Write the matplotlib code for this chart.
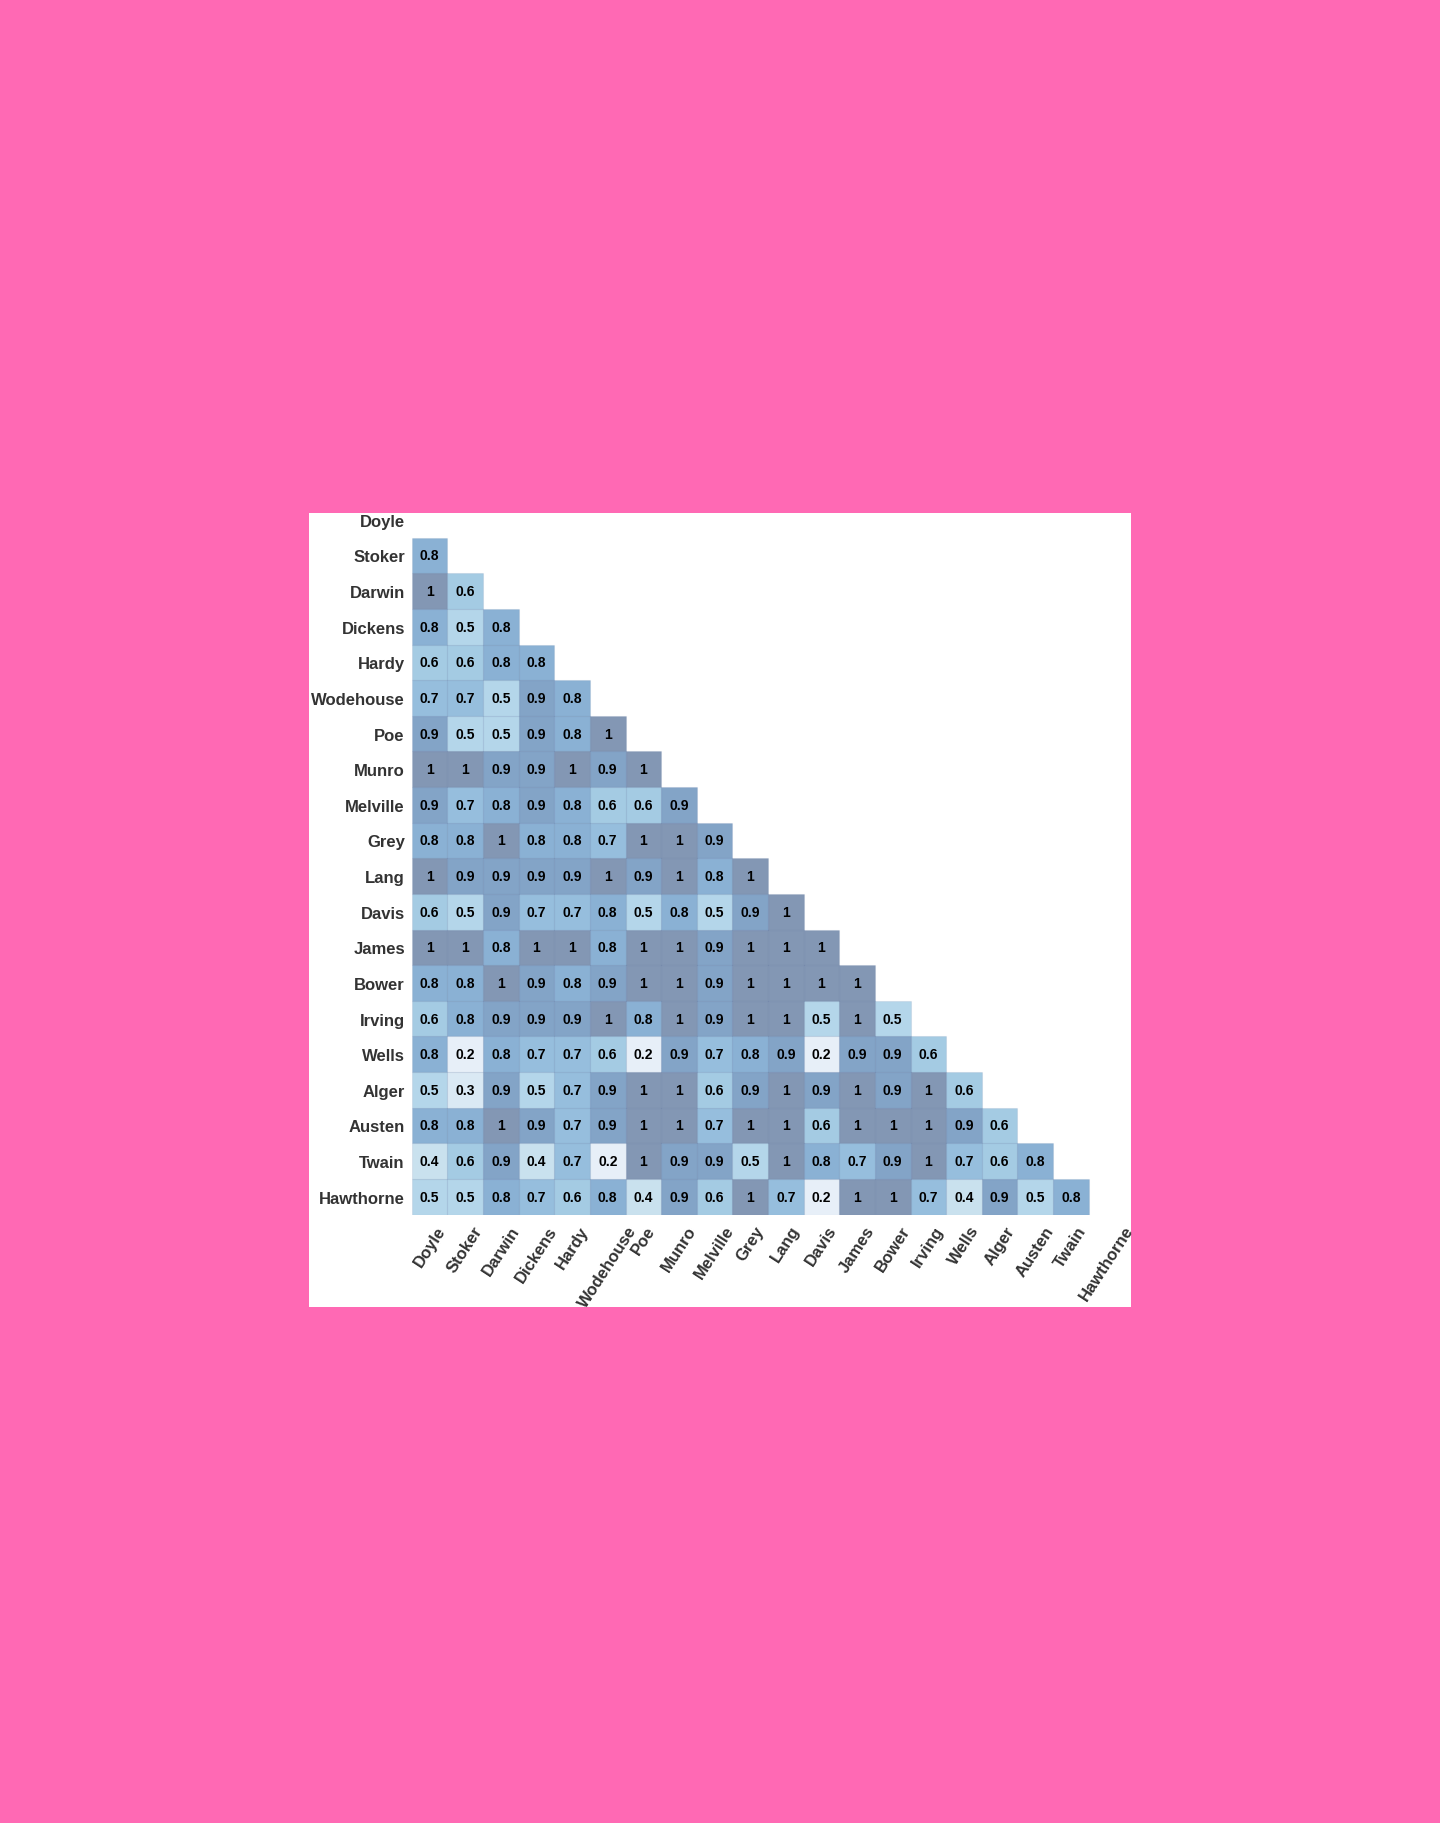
import numpy as np
import matplotlib.pyplot as plt
from matplotlib.patches import Rectangle

plt.rcParams["font.family"] = ["Liberation Sans", "DejaVu Sans"]

authors = ["Doyle", "Stoker", "Darwin", "Dickens", "Hardy", "Wodehouse", "Poe",
           "Munro", "Melville", "Grey", "Lang", "Davis", "James", "Bower",
           "Irving", "Wells", "Alger", "Austen", "Twain", "Hawthorne"]

# lower triangle, one list per row (values left of the diagonal)
rows = [
    [],
    [0.8],
    [1, 0.6],
    [0.8, 0.5, 0.8],
    [0.6, 0.6, 0.8, 0.8],
    [0.7, 0.7, 0.5, 0.9, 0.8],
    [0.9, 0.5, 0.5, 0.9, 0.8, 1],
    [1, 1, 0.9, 0.9, 1, 0.9, 1],
    [0.9, 0.7, 0.8, 0.9, 0.8, 0.6, 0.6, 0.9],
    [0.8, 0.8, 1, 0.8, 0.8, 0.7, 1, 1, 0.9],
    [1, 0.9, 0.9, 0.9, 0.9, 1, 0.9, 1, 0.8, 1],
    [0.6, 0.5, 0.9, 0.7, 0.7, 0.8, 0.5, 0.8, 0.5, 0.9, 1],
    [1, 1, 0.8, 1, 1, 0.8, 1, 1, 0.9, 1, 1, 1],
    [0.8, 0.8, 1, 0.9, 0.8, 0.9, 1, 1, 0.9, 1, 1, 1, 1],
    [0.6, 0.8, 0.9, 0.9, 0.9, 1, 0.8, 1, 0.9, 1, 1, 0.5, 1, 0.5],
    [0.8, 0.2, 0.8, 0.7, 0.7, 0.6, 0.2, 0.9, 0.7, 0.8, 0.9, 0.2, 0.9, 0.9, 0.6],
    [0.5, 0.3, 0.9, 0.5, 0.7, 0.9, 1, 1, 0.6, 0.9, 1, 0.9, 1, 0.9, 1, 0.6],
    [0.8, 0.8, 1, 0.9, 0.7, 0.9, 1, 1, 0.7, 1, 1, 0.6, 1, 1, 1, 0.9, 0.6],
    [0.4, 0.6, 0.9, 0.4, 0.7, 0.2, 1, 0.9, 0.9, 0.5, 1, 0.8, 0.7, 0.9, 1, 0.7, 0.6, 0.8],
    [0.5, 0.5, 0.8, 0.7, 0.6, 0.8, 0.4, 0.9, 0.6, 1, 0.7, 0.2, 1, 1, 0.7, 0.4, 0.9, 0.5, 0.8],
]

n = len(authors)
cmap = plt.get_cmap("Blues")

fig = plt.figure(figsize=(14.4, 18.24), dpi=100, facecolor="#ff69b4")
W, H = 1440, 1824
fig.patches.append(Rectangle((309 / W, 1 - 1308 / H), 822 / W, 794 / H,
                             transform=fig.transFigure, facecolor="white",
                             edgecolor="none", zorder=-5))

ax = fig.add_axes([411.8 / W, 1 - 1215.5 / H, 712.5 / W, 712.5 / H], zorder=1)
ax.set_facecolor("none")

for i, r in enumerate(rows):
    if not r:
        continue
    vals = np.array(r, dtype=float)
    cols = cmap(vals)
    cols[:, 3] = 0.5
    ax.bar(np.arange(len(r)), 1, bottom=i, width=1, align="edge",
           color=cols, edgecolor=(0.25, 0.35, 0.55, 0.1), linewidth=0.8)
    for j, v in enumerate(r):
        txt = "1" if v == 1 else f"{v:.1f}"
        ax.text(j + 0.5, i + 0.5, txt, ha="center", va="center",
                fontsize=10, fontweight="bold", color="black")

ax.set_xlim(0, n)
ax.set_ylim(n, 0)

ax.set_xticks(np.arange(n) + 0.5)
ax.set_yticks(np.arange(n) + 0.5)
ax.set_xticklabels(authors, rotation=57, ha="center", fontsize=12,
                   fontweight="bold", color="#333333")
ax.set_yticklabels(authors, fontsize=12, fontweight="bold", color="#333333")
ax.tick_params(length=0, pad=5)
ax.tick_params(axis="x", pad=6)
for s in ax.spines.values():
    s.set_visible(False)

fig.savefig("out.png", dpi=100, facecolor=fig.get_facecolor())
